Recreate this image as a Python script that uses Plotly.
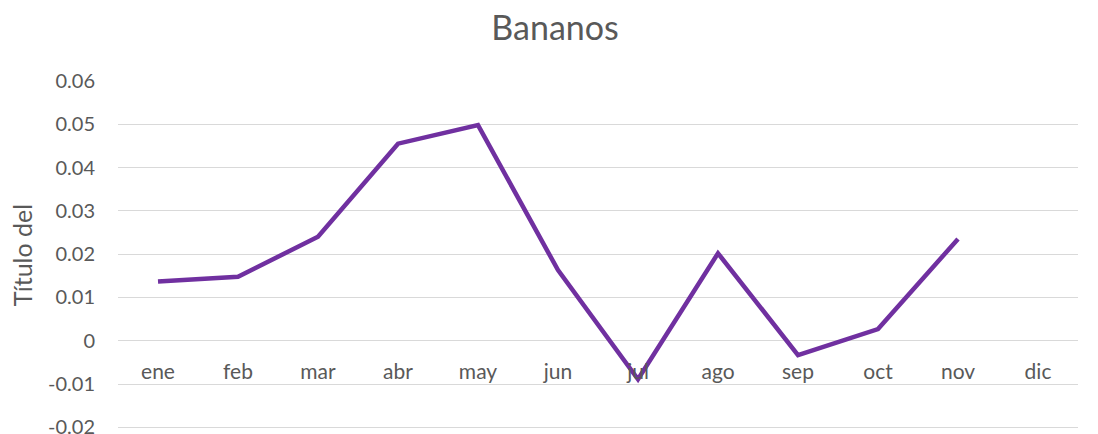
import plotly.graph_objects as go

months = ["ene", "feb", "mar", "abr", "may", "jun", "jul", "ago", "sep", "oct", "nov", "dic"]
values = [0.0137, 0.0148, 0.0240, 0.0455, 0.0498, 0.0163, -0.0089, 0.0202, -0.0033, 0.0027, 0.0235, None]

y_ticks = [-0.02, -0.01, 0, 0.01, 0.02, 0.03, 0.04, 0.05, 0.06]
y_tick_labels = ["-0.02", "-0.01", "0", "0.01", "0.02", "0.03", "0.04", "0.05", "0.06"]

title_text = "Bananos"
y_title = "Título del"

y_min, y_max = y_ticks[0], y_ticks[-1]
pad_bottom = (y_max - y_min) * 0.0075
pad_top = (y_max - y_min) * 0.0025
r0, r1 = y_min - pad_bottom, y_max + pad_top
zero_pos = (0 - r0) / (r1 - r0)

font_family = "Lato, Open Sans, sans-serif"
text_color = "#595959"

fig = go.Figure()
fig.add_trace(go.Scatter(
    x=months, y=values, mode="lines",
    line=dict(color="#7030A0", width=4.5),
    connectgaps=False, showlegend=False,
))

fig.update_layout(
    width=1098, height=434,
    margin=dict(l=118, r=20, t=80, b=4),
    paper_bgcolor="white", plot_bgcolor="white",
    title=dict(text=title_text, x=0.5055, xanchor="center", y=0.935, yanchor="middle",
               font=dict(family=font_family, size=34, color=text_color)),
    font=dict(family=font_family, color=text_color),
)

fig.update_xaxes(
    type="category", categoryorder="array", categoryarray=months,
    range=[-0.5, len(months) - 0.5],
    anchor="free", position=zero_pos,
    showgrid=False, showline=False, zeroline=False,
    ticks="", ticklabelstandoff=16,
    tickfont=dict(family=font_family, size=21, color=text_color),
    automargin=False,
)

fig.update_yaxes(
    range=[r0, r1],
    tickvals=y_ticks, ticktext=y_tick_labels,
    showgrid=True, gridcolor="#d9d9d9", gridwidth=1,
    zeroline=False, showline=False,
    ticks="", ticklabelstandoff=22, ticklabeloverflow="allow",
    tickfont=dict(family=font_family, size=20, color=text_color),
    title=dict(text=y_title, font=dict(family=font_family, size=25, color=text_color), standoff=8),
    automargin=False,
)

fig.write_html("out.html", config={"displayModeBar": False},
               post_script="document.body.style.margin='0';")
